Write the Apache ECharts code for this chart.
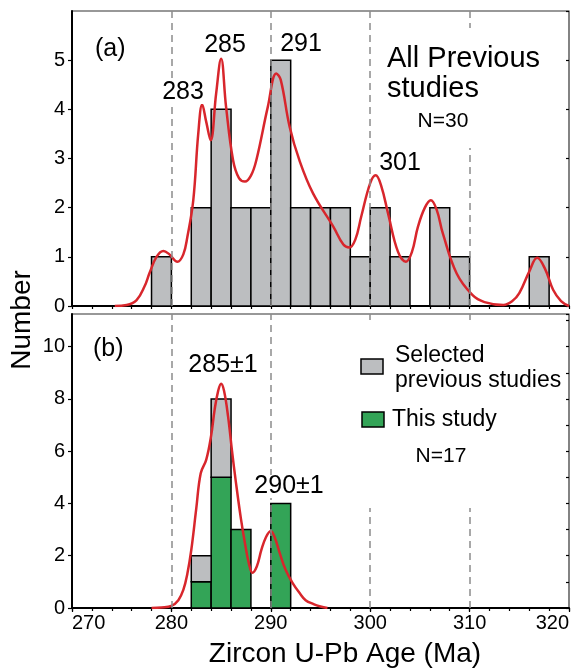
<!DOCTYPE html>
<html>
<head>
<meta charset="utf-8">
<script src="https://cdn.jsdelivr.net/npm/echarts@6/dist/echarts.min.js"></script>
<style>
  html, body { margin: 0; padding: 0; background: #fff; }
  #chart { width: 573px; height: 670px; }
</style>
</head>
<body>
<div id="chart"></div>
<script>
// 数据
const binWidth = 2;

// (a) 全部前人数据 N=30
const allBinStart = [278, 282, 284, 286, 288, 290, 292, 294, 296, 298, 300, 302, 306, 308, 316];
const allCounts = [1, 2, 4, 2, 2, 5, 2, 2, 2, 1, 2, 1, 2, 1, 1];

// (b) 本次研究 + 筛选的前人数据 N=17
const selBinStart = [282, 284, 286, 290];
const thisStudyCounts = [1, 5, 3, 4];
const selectedPrevCounts = [1, 3, 0, 0];

// 概率密度曲线
const kdeAllAge = [274.3, 275.5, 276.5, 277.3, 277.8, 278.5, 279.2, 279.8, 280.6, 281.2, 281.6, 282.2, 282.7, 283.1, 283.5, 283.95,
  284.5, 285.0, 285.5, 286.2, 286.8, 287.4, 288.0, 288.55, 289.7, 290.55, 291.0, 291.9, 292.9, 294.25, 296.3, 297.3, 297.9,
  298.5, 299.1, 300.0, 300.55, 301.1, 301.8, 302.8, 303.6, 304.2, 304.8, 305.5, 306.1, 306.7, 307.3, 308.7, 310.3, 311.5,
  313.4, 314.3, 315.0, 316.0, 316.8, 317.6, 318.4, 319.2, 320];
const kdeAllDensity = [0, 0.02, 0.12, 0.4, 0.67, 1.0, 1.12, 1.05, 0.9, 1.05, 1.4, 2.15, 3.5, 4.1, 3.75, 3.37,
  4.32, 5.03, 4.05, 2.97, 2.6, 2.53, 2.65, 2.97, 4.05, 4.73, 4.6, 3.64, 2.95, 2.29, 1.61, 1.25, 1.19,
  1.35, 1.82, 2.5, 2.66, 2.45, 1.88, 1.1, 0.9, 1.1, 1.61, 2.0, 2.15, 1.95, 1.48, 0.66, 0.22, 0.08,
  0.02, 0.1, 0.26, 0.7, 0.98, 0.75, 0.33, 0.1, 0];

const kdeSelAge = [278.0, 279.0, 280.0, 280.7, 281.2, 281.6, 282.0, 282.5, 282.95, 283.5, 284.0, 284.35, 284.7, 285.0, 285.3,
  285.7, 286.1, 286.5, 287.0, 287.4, 287.8, 288.15, 288.6, 289.05, 289.5, 290.0, 290.4, 290.9, 291.5, 292.2, 292.9,
  293.5, 294.3, 295.0, 295.7];
const kdeSelDensity = [0, 0.02, 0.08, 0.3, 0.69, 1.3, 2.22, 3.8, 5.16, 5.67, 6.6, 7.59, 8.3, 8.58, 8.3,
  7.33, 6.0, 4.78, 3.4, 2.48, 1.7, 1.35, 1.6, 2.22, 2.7, 2.95, 2.7, 2.1, 1.45, 0.95, 0.57,
  0.3, 0.15, 0.06, 0];

const refAges = [280, 290, 300, 310];

const FONT = 'Liberation Sans, Arial, sans-serif';
const GREY = '#bcbec0';
const GREEN = '#33a457';
const RED = '#d8262c';

function zip(a, b) {
  return a.map((v, i) => [v, b[i]]);
}

// 直方柱 [起点, 顶, 底]
function histRender(color) {
  return function (params, api) {
    const p0 = api.coord([api.value(0), api.value(2)]);
    const p1 = api.coord([api.value(0) + binWidth, api.value(1)]);
    return {
      type: 'rect',
      shape: { x: p0[0], y: p1[1], width: p1[0] - p0[0], height: p0[1] - p1[1] },
      style: { fill: color, stroke: '#000', lineWidth: 1.5 },
    };
  };
}

const allBars = allBinStart.map((s, i) => [s, allCounts[i], 0]);
const greenBars = selBinStart.map((s, i) => [s, thisStudyCounts[i], 0]);
const greyBars = selBinStart
  .map((s, i) => [s, thisStudyCounts[i] + selectedPrevCounts[i], thisStudyCounts[i]])
  .filter(d => d[1] > d[2]);

function mainX(grid, showLabel) {
  return {
    gridIndex: grid, type: 'value', min: 270, max: 320, interval: 10,
    axisLine: { lineStyle: { color: '#000', width: 2 } },
    axisTick: { show: showLabel, length: 4, lineStyle: { color: '#000', width: 1.2 } },
    axisLabel: {
      show: showLabel, color: '#000', fontSize: 20, fontFamily: FONT, margin: 5,
      alignMinLabel: 'left', alignMaxLabel: 'right',
    },
    splitLine: { show: false },
  };
}
function minorX(grid) {
  return {
    gridIndex: grid, type: 'value', min: 270, max: 320, interval: 2,
    axisLine: { show: false },
    axisTick: { inside: true, length: 3, lineStyle: { color: '#000', width: 1.2 } },
    axisLabel: { show: false },
    splitLine: { show: false },
  };
}
function mainY(grid, max, interval) {
  return {
    gridIndex: grid, type: 'value', min: 0, max: max, interval: interval,
    axisLine: { show: true, lineStyle: { color: '#000', width: 2 } },
    axisTick: { show: true, length: 4, lineStyle: { color: '#000', width: 1.2 } },
    axisLabel: { color: '#000', fontSize: 20, fontFamily: FONT, margin: 7, showMaxLabel: false },
    splitLine: { show: false },
  };
}
function minorY(grid, max, interval) {
  return {
    gridIndex: grid, type: 'value', min: 0, max: max, interval: interval,
    axisLine: { show: false },
    axisTick: { show: true, inside: true, length: 3, lineStyle: { color: '#000', width: 1.2 } },
    axisLabel: { show: false },
    splitLine: { show: false },
  };
}

function refLines(xIdx, yIdx) {
  return {
    type: 'line', xAxisIndex: xIdx, yAxisIndex: yIdx, data: [], z: 1, silent: true,
    markLine: {
      silent: true, symbol: 'none', animation: false,
      label: { show: false },
      lineStyle: { color: '#8c8c8c', width: 1.5, type: [7, 5] },
      data: refAges.map(a => ({ xAxis: a })),
    },
  };
}

function txt(text, x, y, size, align) {
  return {
    type: 'text', x: x, y: y, z: 60,
    style: { text: text, fontSize: size, fontFamily: FONT, fill: '#000', align: align || 'center', verticalAlign: 'middle' },
  };
}
function cover(x, y, w, h) {
  return { type: 'rect', z: 50, shape: { x: x, y: y, width: w, height: h }, style: { fill: '#fff' } };
}

const option = {
  animation: false,
  backgroundColor: '#fff',
  grid: [
    { left: 72, right: 4, top: 11, height: 295, show: true, borderColor: '#333', borderWidth: 1.2, outerBoundsMode: 'none', containLabel: false },
    { left: 72, right: 4, top: 314, height: 294, show: true, borderColor: '#333', borderWidth: 1.2, outerBoundsMode: 'none', containLabel: false },
  ],
  xAxis: [mainX(0, false), minorX(0), mainX(1, true), minorX(1)],
  yAxis: [mainY(0, 6, 1), minorY(0, 6, 1), mainY(1, 11.25, 2), minorY(1, 11.25, 1)],
  series: [
    refLines(0, 0),
    refLines(2, 2),
    {
      type: 'custom', xAxisIndex: 0, yAxisIndex: 0, z: 2,
      renderItem: histRender(GREY), data: allBars, encode: { x: 0, y: 1 },
    },
    {
      type: 'custom', xAxisIndex: 2, yAxisIndex: 2, z: 2,
      renderItem: histRender(GREEN), data: greenBars, encode: { x: 0, y: 1 },
    },
    {
      type: 'custom', xAxisIndex: 2, yAxisIndex: 2, z: 2,
      renderItem: histRender(GREY), data: greyBars, encode: { x: 0, y: 1 },
    },
    {
      type: 'line', xAxisIndex: 0, yAxisIndex: 0, z: 3,
      data: zip(kdeAllAge, kdeAllDensity), showSymbol: false, smooth: 0.4,
      lineStyle: { color: RED, width: 2.5 },
    },
    {
      type: 'line', xAxisIndex: 2, yAxisIndex: 2, z: 3,
      data: zip(kdeSelAge, kdeSelDensity), showSymbol: false, smooth: 0.4,
      lineStyle: { color: RED, width: 2.5 },
    },
  ],
  graphic: [
    // 文字背景遮挡虚线
    cover(380, 28, 180, 120),
    cover(158, 80, 51, 24),
    cover(355, 322, 211, 186),
    cover(250, 475, 78, 23),

    txt('(a)', 95, 49, 25, 'left'),
    txt('283', 183, 92, 25),
    txt('285', 225, 45, 25),
    txt('291', 301, 44, 25),
    txt('All Previous', 387, 59, 29, 'left'),
    txt('studies', 387, 89, 29, 'left'),
    txt('N=30', 443, 121, 21),
    txt('301', 400, 163, 25),

    txt('(b)', 93, 349, 25, 'left'),
    txt('285±1', 223, 365, 25),
    txt('290±1', 289, 486, 25),
    {
      type: 'rect', z: 60, shape: { x: 361, y: 359, width: 22, height: 15 },
      style: { fill: GREY, stroke: '#000', lineWidth: 1.5 },
    },
    txt('Selected', 395, 356, 23, 'left'),
    txt('previous studies', 395, 381, 23, 'left'),
    {
      type: 'rect', z: 60, shape: { x: 362, y: 412, width: 22, height: 15 },
      style: { fill: GREEN, stroke: '#000', lineWidth: 1.5 },
    },
    txt('This study', 392, 420, 23, 'left'),
    txt('N=17', 441, 456, 21),

    txt('Zircon U-Pb Age (Ma)', 345, 654, 28),
    {
      type: 'text', x: 22, y: 320, rotation: Math.PI / 2, z: 60,
      style: { text: 'Number', fontSize: 28, fontFamily: FONT, fill: '#000', align: 'center', verticalAlign: 'middle' },
    },
  ],
};

const myChart = echarts.init(document.getElementById('chart'), null, { renderer: 'canvas' });
myChart.setOption(option);
</script>
</body>
</html>
